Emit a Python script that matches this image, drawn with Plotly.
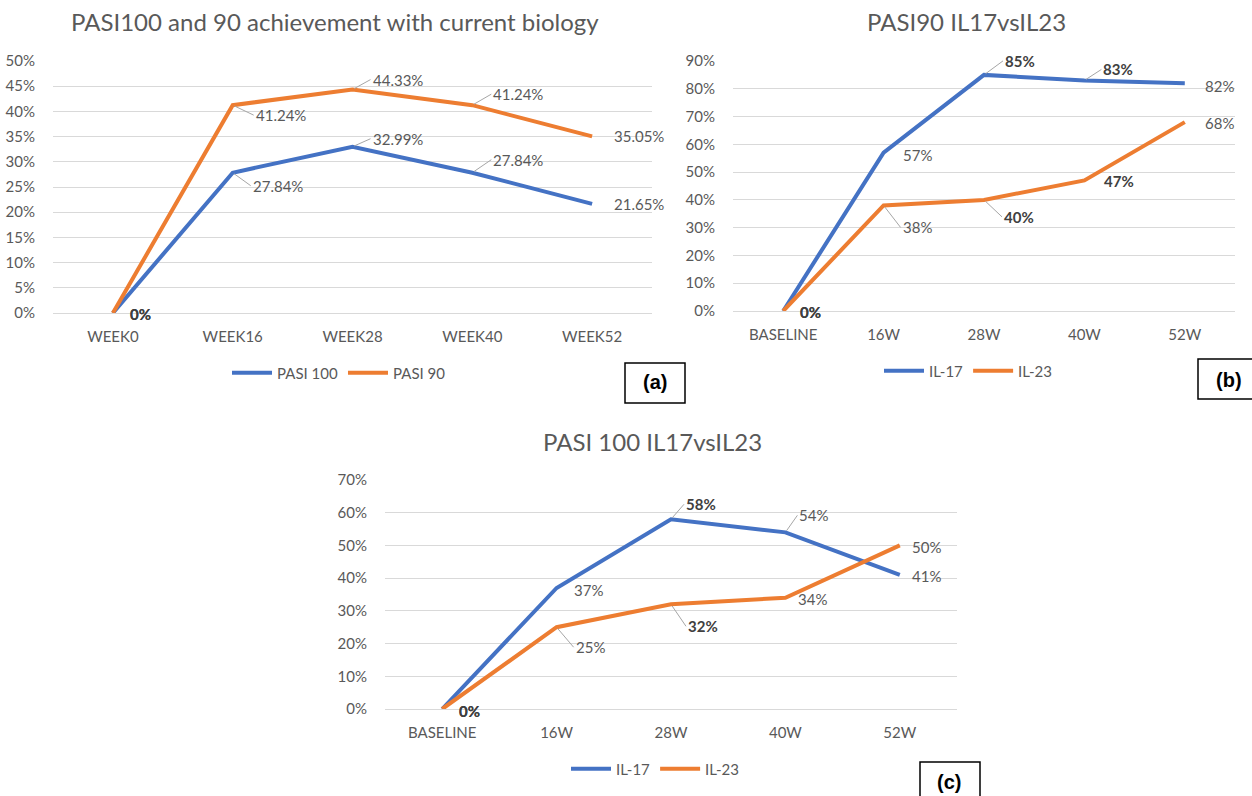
import plotly.graph_objects as go

# ---------------- data ----------------
weeks_a = ["WEEK0", "WEEK16", "WEEK28", "WEEK40", "WEEK52"]
pasi100 = [0, 27.84, 32.99, 27.84, 21.65]
pasi90 = [0, 41.24, 44.33, 41.24, 35.05]

weeks_bc = ["BASELINE", "16W", "28W", "40W", "52W"]
b_il17 = [0, 57, 85, 83, 82]
b_il23 = [0, 38, 40, 47, 68]

c_il17 = [0, 37, 58, 54, 41]
c_il23 = [0, 25, 32, 34, 50]

titles = ["PASI100 and 90 achievement with current biology", "PASI90 IL17vsIL23", "PASI 100 IL17vsIL23"]
panel_tags = ["(a)", "(b)", "(c)"]

# ---------------- style ----------------
W, H = 1252, 796
BLUE = "#4472C4"
ORANGE = "#ED7D31"
GRID = "#D9D9D9"
TXT = "#595959"
FONT = "Lato, Open Sans, sans-serif"
FS = 15

def px(x):
    return x / W

def py(y):
    return 1 - y / H

fig = go.Figure()

# panel geometry (pixels): x0, x1, y_top, y_bottom
panels = [
    dict(xa="x", ya="y", x0=53, x1=652, yt=61, yb=313, rng=[0, 50], dt=5, cats=weeks_a),
    dict(xa="x2", ya="y2", x0=733, x1=1235, yt=61, yb=311, rng=[0, 90], dt=10, cats=weeks_bc),
    dict(xa="x3", ya="y3", x0=385, x1=957, yt=480, yb=709, rng=[0, 70], dt=10, cats=weeks_bc),
]

series = [
    (0, "PASI 100", pasi100, BLUE, "legend"),
    (0, "PASI 90", pasi90, ORANGE, "legend"),
    (1, "IL-17", b_il17, BLUE, "legend2"),
    (1, "IL-23", b_il23, ORANGE, "legend2"),
    (2, "IL-17", c_il17, BLUE, "legend3"),
    (2, "IL-23", c_il23, ORANGE, "legend3"),
]

for p, name, vals, col, leg in series:
    cats = panels[p]["cats"]
    fig.add_trace(go.Scatter(
        x=cats, y=vals, mode="lines", name=name,
        line=dict(color=col, width=4),
        xaxis=panels[p]["xa"], yaxis=panels[p]["ya"], legend=leg,
        hoverinfo="skip",
    ))

layout = {}
for i, p in enumerate(panels):
    sfx = "" if i == 0 else str(i + 1)
    layout["xaxis" + sfx] = dict(
        domain=[px(p["x0"]), px(p["x1"])], anchor=p["ya"], type="category",
        range=[-0.5, 4.5], showgrid=False, showline=True, linecolor=GRID, linewidth=1,
        ticks="outside", ticklen=10, tickcolor="rgba(0,0,0,0)",
        tickfont=dict(family=FONT, size=FS, color=TXT), zeroline=False, fixedrange=True,
    )
    layout["yaxis" + sfx] = dict(
        domain=[py(p["yb"]), py(p["yt"])], anchor=p["xa"], range=p["rng"], dtick=p["dt"],
        showgrid=True, gridcolor=GRID, gridwidth=1, zeroline=False, showline=False,
        ticksuffix="%", ticks="outside", ticklen=14, tickcolor="rgba(0,0,0,0)",
        tickfont=dict(family=FONT, size=FS, color=TXT), fixedrange=True,
    )

# label offsets (style): per series list of (dx, dy, bold, leader)
label_style = [
    [(15, 1, True, False), (18, 13, False, True), (18, -8, False, True), (19, -13, False, True), (20, 0, False, False)],
    [(15, 1, True, False), (21, 10, False, True), (18, -10, False, True), (19, -11, False, True), (20, 0, False, False)],
    [(15, 1, True, False), (17, 2, False, False), (19, -14, True, True), (17, -11, True, True), (18, 3, False, False)],
    [(15, 1, True, False), (17, 22, False, True), (18, 17, True, True), (18, 1, True, False), (18, 1, False, False)],
    [(15, 2, True, False), (15, 2, False, False), (13, -15, True, True), (12, -17, False, True), (10, 1, False, False)],
    [(15, 2, True, False), (17, 20, False, True), (15, 22, True, True), (11, 1, False, False), (10, 2, False, False)],
]

annotations = []
for (p, name, vals, col, leg), styles in zip(series, label_style):
    cats = panels[p]["cats"]
    dec = 2 if p == 0 else 0
    for c, v, (dx, dy, bold, leader) in zip(cats, vals, styles):
        txt = "0%" if v == 0 else f"{v:.{dec}f}%"
        if bold:
            txt = f"<b>{txt}</b>"
        base = dict(x=c, y=v, xref=panels[p]["xa"], yref=panels[p]["ya"], text=txt,
                    font=dict(family=FONT, size=FS, color=TXT if not bold else "#404040"),
                    xanchor="left", yanchor="middle")
        if leader:
            base.update(showarrow=True, arrowhead=0, arrowwidth=1, arrowcolor="#A6A6A6",
                        ax=dx, ay=dy, standoff=2)
        else:
            base.update(showarrow=False, xshift=dx, yshift=-dy)
        annotations.append(base)

# titles
for t, (cx, cy) in zip(titles, [(335, 22), (966, 22), (652, 441)]):
    annotations.append(dict(x=px(cx), y=py(cy), xref="paper", yref="paper", text=t,
                            showarrow=False, xanchor="center", yanchor="middle",
                            font=dict(family=FONT, size=24, color=TXT)))

# panel tag boxes
boxes = [(625, 363, 685, 403), (1198, 359, 1260, 399), (920, 762, 980, 810)]
shapes = []
for tag, (x0, y0, x1, y1) in zip(panel_tags, boxes):
    shapes.append(dict(type="rect", xref="paper", yref="paper", x0=px(x0), x1=px(x1),
                       y0=py(y1), y1=py(y0), line=dict(color="#000000", width=1.5),
                       fillcolor="rgba(0,0,0,0)"))
for tag, (cx, cy) in zip(panel_tags, [(655, 382), (1229, 380), (949, 782)]):
    annotations.append(dict(x=px(cx), y=py(cy), xref="paper", yref="paper", text=f"<b>{tag}</b>",
                            showarrow=False, xanchor="center", yanchor="middle",
                            font=dict(family="Liberation Sans, Arial, sans-serif", size=20, color="#000000")))

leg_common = dict(orientation="h", xanchor="center", yanchor="middle", bgcolor="rgba(0,0,0,0)",
                  font=dict(family=FONT, size=FS, color=TXT), itemwidth=40, tracegroupgap=0)

fig.update_layout(
    width=W, height=H, margin=dict(l=0, r=0, t=0, b=0, pad=0, autoexpand=False),
    paper_bgcolor="white", plot_bgcolor="white",
    showlegend=True,
    legend=dict(x=px(339), y=py(373), **leg_common),
    legend2=dict(x=px(968), y=py(371), **leg_common),
    legend3=dict(x=px(655), y=py(769), **leg_common),
    annotations=annotations, shapes=shapes,
    **layout,
)

fig.write_html("out.html", config={"displayModeBar": False},
               post_script="document.body.style.margin='0';document.body.style.overflow='hidden';")
